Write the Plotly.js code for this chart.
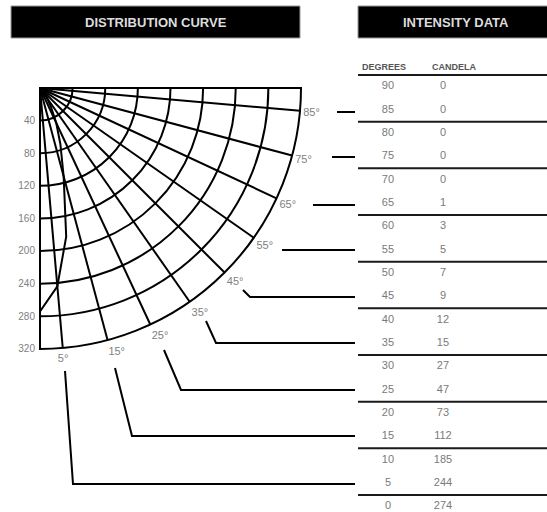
<!DOCTYPE html>
<html><head><meta charset="utf-8">
<script src="https://cdn.plot.ly/plotly-3.0.1.min.js"></script>
<style>html,body{margin:0;padding:0;background:#fff;}#chart{width:547px;height:512px;}</style>
</head><body><div id="chart"></div>
<script>
// ---- data ----
const degrees = [90,85,80,75,70,65,60,55,50,45,40,35,30,25,20,15,10,5,0];
const candela = [0,0,0,0,0,1,3,5,7,9,12,15,27,47,73,112,185,244,274];
const angleTicks = [0,5,15,25,35,45,55,65,75,85,90];
const angleTickText = ['','5°','15°','25°','35°','45°','55°','65°','75°','85°',''];
const radialTicks = [40,80,120,160,200,240,280,320];
const radialTickText = ['40','80','120','160','200','240','280','320'];
const panelTitles = ['DISTRIBUTION CURVE','INTENSITY DATA'];
const columnHeaders = ['DEGREES','CANDELA'];
const ruleDegrees = [92.5,82.5,72.5,62.5,52.5,42.5,32.5,22.5,12.5,2.5];

// ---- layout helpers (pixel -> paper) ----
const W=547,H=512;
const X=p=>p/W, Y=p=>1-p/H;
const leaderPx = [
 [[337,112],[355,112]],
 [[332,157],[355,157]],
 [[313,205],[355,205]],
 [[282,250],[355,250]],
 [[243,290],[250,297],[355,297]],
 [[206,321],[216,343],[355,343]],
 [[164,350],[181,390],[355,390]],
 [[115,368],[132,436],[355,436]],
 [[65,371],[73,484],[355,484]]
];

const grey='#7a7a7a';
const font='Liberation Sans, Arial, sans-serif';
const traces = [
 {type:'scatterpolar', r:candela, theta:degrees, mode:'lines',
  line:{color:'#000',width:2}, showlegend:false, hoverinfo:'skip', subplot:'polar'},
 {type:'scatter', x:degrees.map(()=>columnHeaders[0]), y:degrees, text:degrees.map(String),
  mode:'text', textfont:{family:font,size:11,color:grey},
  showlegend:false, hoverinfo:'skip', xaxis:'x', yaxis:'y'},
 {type:'scatter', x:degrees.map(()=>columnHeaders[1]), y:degrees, text:candela.map(String),
  mode:'text', textfont:{family:font,size:11,color:grey},
  showlegend:false, hoverinfo:'skip', xaxis:'x', yaxis:'y'}
];

const shapes = [];
shapes.push({type:'rect',xref:'paper',yref:'paper',x0:X(11),x1:X(300),y0:Y(38),y1:Y(6),fillcolor:'#000',line:{color:'#999',width:1},layer:'below'});
shapes.push({type:'rect',xref:'paper',yref:'paper',x0:X(358),x1:X(548),y0:Y(38),y1:Y(6),fillcolor:'#000',line:{color:'#999',width:1},layer:'below'});
ruleDegrees.forEach(d=>shapes.push({type:'line',xref:'paper',yref:'y',x0:X(358),x1:1,y0:d,y1:d,line:{color:'#1a1a1a',width:2}}));
leaderPx.forEach(pts=>{
  const path = pts.map((p,i)=>(i?'L':'M')+X(p[0])+','+Y(p[1])).join(' ');
  shapes.push({type:'path',xref:'paper',yref:'paper',path:path,line:{color:'#000',width:2}});
});

const annotations = [
 {xref:'paper',yref:'paper',x:X(155.5),y:Y(22),text:'<b>'+panelTitles[0]+'</b>',showarrow:false,font:{family:font,size:13,color:'#dcdcdc'},xanchor:'center',yanchor:'middle'},
 {xref:'paper',yref:'paper',x:X(456),y:Y(22),text:'<b>'+panelTitles[1]+'</b>',showarrow:false,font:{family:font,size:13,color:'#dcdcdc'},xanchor:'center',yanchor:'middle'},
 {xref:'paper',yref:'paper',x:X(360),y:Y(67),text:'<b>'+columnHeaders[0]+'</b>',showarrow:false,font:{family:font,size:9,color:'#555'},xanchor:'left',yanchor:'middle'},
 {xref:'paper',yref:'paper',x:X(430),y:Y(67),text:'<b>'+columnHeaders[1]+'</b>',showarrow:false,font:{family:font,size:9,color:'#555'},xanchor:'left',yanchor:'middle'}
];

const layout = {
 width:W,height:H,margin:{l:0,r:0,t:0,b:0},
 paper_bgcolor:'#fff',plot_bgcolor:'rgba(0,0,0,0)',showlegend:false,
 font:{family:font,color:grey},
 polar:{
  domain:{x:[X(40),X(301)],y:[Y(349),Y(88)]},
  sector:[-90,0], bgcolor:'#fff',
  angularaxis:{rotation:-90,direction:'counterclockwise',tickmode:'array',tickvals:angleTicks,ticktext:angleTickText,
    showgrid:true,gridcolor:'#000',gridwidth:2,showline:true,linecolor:'#000',linewidth:2,ticks:'',
    tickfont:{family:font,size:11,color:'#808080'}},
  radialaxis:{range:[0,320],angle:-90,tickmode:'array',tickvals:radialTicks,ticktext:radialTickText,
    showgrid:true,gridcolor:'#000',gridwidth:2,showline:true,linecolor:'#000',linewidth:2,ticks:'',
    tickangle:-90,side:'clockwise',tickfont:{family:font,size:10,color:'#808080'}}
 },
 xaxis:{domain:[0,1],type:'category',categoryarray:columnHeaders,range:[-7.05,2.89],visible:false,fixedrange:true},
 yaxis:{domain:[0,1],range:[-1.143,108.57],visible:false,fixedrange:true},
 shapes:shapes, annotations:annotations
};
Plotly.newPlot('chart',traces,layout,{displayModeBar:false,staticPlot:true});
</script></body></html>
